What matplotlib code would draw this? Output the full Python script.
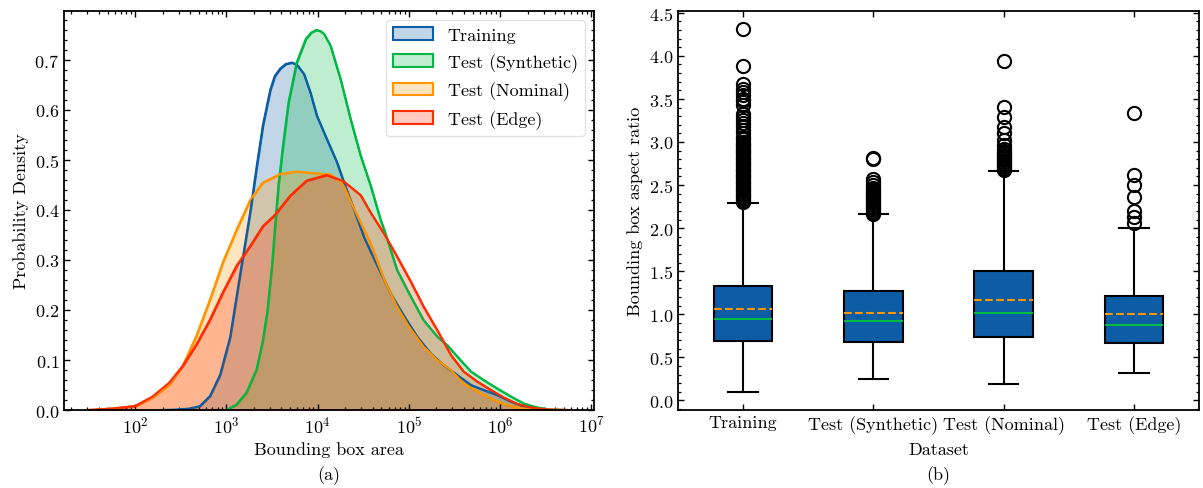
import numpy as np
import matplotlib.pyplot as plt
from matplotlib.colors import to_rgba
from matplotlib.ticker import AutoMinorLocator

# KDE curves: log10(bounding box area) and density
train_log_area = [2.30, 2.45, 2.60, 2.71, 2.82, 2.93, 3.04, 3.11, 3.18, 3.26, 3.33, 3.40, 3.48,
                  3.53, 3.59, 3.65, 3.72, 3.78, 3.85, 3.92, 3.99, 4.10, 4.21, 4.30, 4.40, 4.51,
                  4.65, 4.80, 4.95, 5.09, 5.24, 5.38, 5.53, 5.68, 5.82, 5.97, 6.12, 6.26, 6.41, 6.55]
train_density = [0.0, 0.001, 0.003, 0.008, 0.028, 0.07, 0.145, 0.225, 0.305, 0.395, 0.485, 0.57, 0.64,
                 0.668, 0.683, 0.692, 0.695, 0.689, 0.672, 0.635, 0.589, 0.542, 0.496, 0.449, 0.40, 0.345,
                 0.29, 0.233, 0.187, 0.147, 0.113, 0.09, 0.07, 0.05, 0.04, 0.03, 0.017, 0.007, 0.002, 0.0]

synth_log_area = [3.00, 3.11, 3.22, 3.33, 3.40, 3.45, 3.50, 3.53, 3.57, 3.62, 3.68, 3.77, 3.87,
                  3.93, 3.985, 4.03, 4.07, 4.14, 4.25, 4.36, 4.47, 4.58, 4.69, 4.73, 4.87, 5.02,
                  5.16, 5.31, 5.42, 5.53, 5.68, 5.82, 5.97, 6.12, 6.26, 6.41, 6.55, 6.75]
synth_density = [0.0, 0.011, 0.035, 0.081, 0.14, 0.20, 0.29, 0.36, 0.449, 0.529, 0.615, 0.695, 0.742,
                 0.755, 0.76, 0.758, 0.752, 0.729, 0.662, 0.582, 0.509, 0.449, 0.38, 0.36, 0.28, 0.227,
                 0.18, 0.147, 0.13, 0.107, 0.077, 0.06, 0.043, 0.027, 0.013, 0.005, 0.001, 0.0]

nominal_log_area = [1.48, 1.75, 2.00, 2.19, 2.375, 2.52, 2.67, 2.82, 2.96, 3.11, 3.26, 3.40, 3.59,
                    3.77, 3.95, 4.14, 4.22, 4.29, 4.40, 4.58, 4.73, 4.87, 5.00, 5.16, 5.31, 5.46,
                    5.60, 5.75, 5.90, 6.04, 6.19, 6.34, 6.75]
nominal_density = [0.0, 0.003, 0.008, 0.025, 0.051, 0.088, 0.148, 0.221, 0.295, 0.36, 0.42, 0.455, 0.472,
                   0.477, 0.474, 0.471, 0.462, 0.447, 0.402, 0.333, 0.26, 0.207, 0.167, 0.127, 0.10, 0.08,
                   0.053, 0.037, 0.023, 0.012, 0.005, 0.001, 0.0]

edge_log_area = [1.48, 1.75, 2.00, 2.19, 2.375, 2.52, 2.67, 2.82, 2.96, 3.11, 3.26, 3.40, 3.53,
                 3.70, 3.88, 4.10, 4.28, 4.47, 4.58, 4.73, 4.87, 5.02, 5.16, 5.31, 5.46, 5.60,
                 5.75, 5.90, 6.04, 6.19, 6.34, 6.52, 6.75]
edge_density = [0.0, 0.003, 0.008, 0.027, 0.055, 0.088, 0.131, 0.181, 0.235, 0.288, 0.328, 0.368, 0.39,
                0.429, 0.459, 0.47, 0.458, 0.43, 0.395, 0.352, 0.307, 0.257, 0.207, 0.16, 0.11, 0.077,
                0.057, 0.04, 0.025, 0.012, 0.005, 0.001, 0.0]

datasets = ['Training', 'Test (Synthetic)', 'Test (Nominal)', 'Test (Edge)']
colors = ['#0C5DA5', '#00B945', '#FF9500', '#FF2C00']

# box plot statistics
q1 = [0.689, 0.673, 0.731, 0.666]
medians = [0.948, 0.917, 1.018, 0.875]
means = [1.057, 1.010, 1.161, 0.998]
q3 = [1.331, 1.269, 1.498, 1.207]
whis_lo = [0.10, 0.255, 0.186, 0.317]
whis_hi = [2.287, 2.16, 2.659, 2.0]
fliers_train = [2.30, 2.32, 2.34, 2.36, 2.38, 2.40, 2.42, 2.44, 2.46, 2.48, 2.50, 2.52, 2.54, 2.56,
                2.58, 2.60, 2.62, 2.64, 2.66, 2.68, 2.70, 2.72, 2.74, 2.76, 2.78, 2.80, 2.82, 2.84,
                2.86, 2.88, 2.90, 2.92, 2.94, 2.96, 2.98, 3.00, 3.03, 3.06, 3.10, 3.14, 3.18, 3.22,
                3.25, 3.29, 3.32, 3.43, 3.47, 3.50, 3.54, 3.58, 3.62, 3.67, 3.88, 4.31]
fliers_synth = [2.17, 2.19, 2.21, 2.23, 2.25, 2.27, 2.29, 2.31, 2.33, 2.35, 2.37, 2.39, 2.41, 2.43,
                2.45, 2.47, 2.50, 2.54, 2.57, 2.80, 2.82]
fliers_nominal = [2.67, 2.69, 2.71, 2.73, 2.75, 2.77, 2.79, 2.81, 2.83, 2.85, 2.87, 2.89, 2.92,
                  2.96, 3.02, 3.10, 3.17, 3.29, 3.41, 3.94]
fliers_edge = [2.06, 2.13, 2.20, 2.36, 2.50, 2.62, 3.34]

plt.rcParams['font.family'] = 'serif'
plt.rcParams['font.serif'] = ['cmr10']
plt.rcParams['mathtext.fontset'] = 'cm'
plt.rcParams['axes.formatter.use_mathtext'] = True
plt.rcParams['font.size'] = 13
plt.rcParams['axes.linewidth'] = 1.3
for ax_name in ['xtick', 'ytick']:
    plt.rcParams[ax_name + '.direction'] = 'in'
    plt.rcParams[ax_name + '.major.size'] = 4.5
    plt.rcParams[ax_name + '.minor.size'] = 2.5
    plt.rcParams[ax_name + '.major.width'] = 1.0
    plt.rcParams[ax_name + '.minor.width'] = 0.9
plt.rcParams['xtick.top'] = True
plt.rcParams['ytick.right'] = True

fig = plt.figure(figsize=(12.03, 4.89), dpi=100)
ax1 = fig.add_axes([0.0532, 0.1595, 0.4406, 0.816])
ax2 = fig.add_axes([0.5636, 0.1595, 0.4331, 0.816])

# panel (a)
curves = [(train_log_area, train_density), (synth_log_area, synth_density),
          (nominal_log_area, nominal_density), (edge_log_area, edge_density)]
for (log_area, dens), name, c in zip(curves, datasets, colors):
    area = 10 ** np.array(log_area)
    ax1.fill_between(area, 0, dens, facecolor=to_rgba(c, 0.25), edgecolor=c,
                     linewidth=0, label=name)
    ax1.plot(area, dens, color=c, linewidth=1.5)
ax1.set_xscale('log')
ax1.set_xlim(10 ** 1.22, 10 ** 7.03)
ax1.set_ylim(bottom=0)
ax1.yaxis.set_minor_locator(AutoMinorLocator(5))
ax1.set_xlabel('Bounding box area')
ax1.set_ylabel('Probability Density')

handles, labels = ax1.get_legend_handles_labels()
for h in handles:
    h.set_linewidth(1.5)
ax1.legend(handles, labels, loc='upper right', fancybox=True, labelspacing=0.55,
           framealpha=0.8, edgecolor='#dddddd', handlelength=2.2)

# panel (b)
fliers = [fliers_train, fliers_synth, fliers_nominal, fliers_edge]
stats = []
for i, name in enumerate(datasets):
    stats.append(dict(label=name, q1=q1[i], med=medians[i], q3=q3[i], mean=means[i],
                      whislo=whis_lo[i], whishi=whis_hi[i], fliers=fliers[i]))
ax2.bxp(stats, showmeans=True, meanline=True, patch_artist=True,
        boxprops=dict(facecolor='#0C5DA5', edgecolor='black', linewidth=1.5),
        medianprops=dict(color='#00B945', linewidth=1.5),
        meanprops=dict(color='#FF9500', linestyle='--', linewidth=1.5),
        whiskerprops=dict(color='black', linewidth=1.5),
        capprops=dict(color='black', linewidth=1.5),
        flierprops=dict(marker='o', markerfacecolor='none', markeredgecolor='black',
                        markersize=9.5, markeredgewidth=1.5))
ax2.set_yticks(np.arange(0, 4.51, 0.5))
ax2.yaxis.set_minor_locator(AutoMinorLocator(5))
ax2.set_xlabel('Dataset', labelpad=6)
ax2.set_ylabel('Bounding box aspect ratio')

fig.text(0.0532 + 0.4406 / 2, 0.028, '(a)', ha='center', va='center')
fig.text(0.5636 + 0.4331 / 2, 0.028, '(b)', ha='center', va='center')

fig.savefig('out.png', dpi=100)
